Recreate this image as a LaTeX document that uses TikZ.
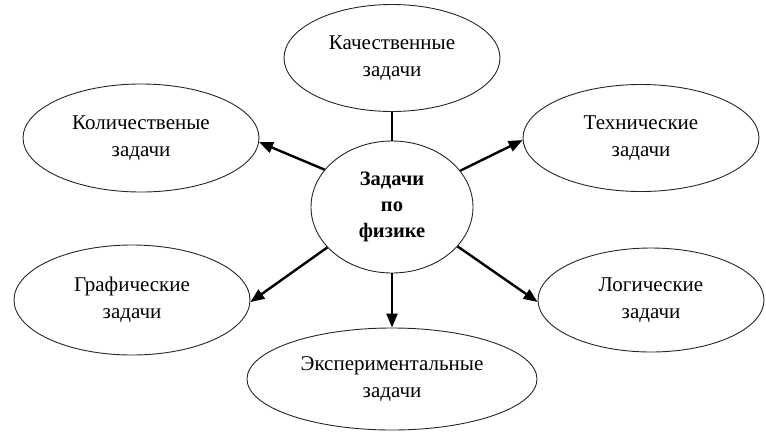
\documentclass[tikz,border=0pt]{standalone}
\usepackage{fontspec}
\setmainfont{Liberation Serif}
\usetikzlibrary{shapes.geometric,arrows.meta}
\begin{document}
\begin{tikzpicture}[x=1pt,y=-1pt,
  oval/.style={draw=black!85,line width=0.9pt,ellipse,inner sep=0pt,align=center,
    font=\fontsize{21}{27}\selectfont},
  hub/.style={oval,font=\fontsize{20.5}{26}\selectfont\bfseries},
  link/.style={line width=2.4pt},
  arr/.style={link,-{Triangle[length=14pt,width=11pt]}}]
\useasboundingbox (0,0) rectangle (766,432);
\node[hub,minimum width=162pt,minimum height=132pt] (c) at (392,207) {Задачи\\по\\физике};
\node[oval,minimum width=216pt,minimum height=107pt] (t) at (392,58) {Качественные\\задачи};
\node[oval,minimum width=236pt,minimum height=108pt] (lt) at (141,138) {Количественые\\задачи};
\node[oval,minimum width=236pt,minimum height=107pt] (rt) at (641,138) {Технические\\задачи};
\node[oval,minimum width=236pt,minimum height=110pt] (lb) at (132,300) {Графические\\задачи};
\node[oval,minimum width=226pt,minimum height=104pt] (rb) at (651,300) {Логические\\задачи};
\node[oval,minimum width=290pt,minimum height=102pt] (b) at (392,379) {Экспериментальные\\задачи};
\draw[link] (t.south) -- (c.north);
\draw[arr] (c.151) -- (lt.-2);
\draw[arr] (c.28) -- (rt.181);
\draw[arr] (c.212) -- (lb.-1);
\draw[arr] (c.-31) -- (rb.181);
\draw[arr] (c.south) -- (b.north);
\end{tikzpicture}
\end{document}
